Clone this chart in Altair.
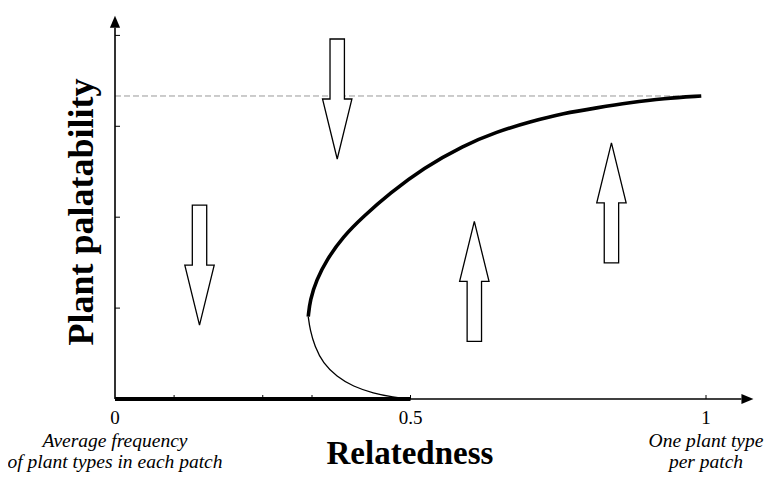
import altair as alt
import pandas as pd

# ---- data ----
# stable (thick) upper branch of the fold
upper_x = [0.327, 0.330, 0.341, 0.358, 0.386, 0.420, 0.465, 0.522, 0.589, 0.646, 0.702, 0.759, 0.815, 0.871, 0.928, 0.992]
upper_y = [0.272, 0.327, 0.393, 0.459, 0.536, 0.602, 0.679, 0.762, 0.836, 0.882, 0.915, 0.943, 0.961, 0.978, 0.992, 1.000]
# unstable (thin) lower branch
lower_x = [0.327, 0.330, 0.338, 0.352, 0.375, 0.403, 0.437, 0.471, 0.500]
lower_y = [0.272, 0.228, 0.173, 0.118, 0.074, 0.041, 0.019, 0.006, 0.000]
# stable zero branch
base_x = [0.0, 0.5]
base_y = [0.0, 0.0]
# asymptote level
asym_level = 1.0
# selection arrows
arrow_x = [0.143, 0.376, 0.608, 0.840]
arrow_y = [0.442, 0.990, 0.388, 0.647]
arrow_dir = ["down", "down", "up", "up"]
# axis ticks
xtick_vals = [0.1, 0.25, 1 / 3, 0.5, 1.0]
ytick_vals = [0.3, 0.6, 0.9, 1.2]
xlabel_vals = [0, 0.5, 1]
xlabel_text = ["0", "0.5", "1"]

FONT = "Liberation Serif"
W, H = 759, 464
X0, X1 = -0.18105, 1.10321
Y0, Y1 = -0.2409, 1.2904
PX = (X1 - X0) / W   # data units per pixel
PY = (Y1 - Y0) / H

xs = alt.Scale(domain=[X0, X1], nice=False, zero=False)
ys = alt.Scale(domain=[Y0, Y1], nice=False, zero=False)


def X(f="x"):
    return alt.X(f"{f}:Q", scale=xs, axis=None)


def Y(f="y"):
    return alt.Y(f"{f}:Q", scale=ys, axis=None)


def X2(f):
    return alt.X2(f"{f}:Q")


def Y2(f):
    return alt.Y2(f"{f}:Q")


upper = pd.DataFrame({"x": upper_x, "y": upper_y, "o": range(len(upper_x))})
lower = pd.DataFrame({"x": lower_x, "y": lower_y, "o": range(len(lower_x))})
base = pd.DataFrame({"x": base_x, "y": base_y, "o": range(len(base_x))})

# axes
axis_df = pd.DataFrame({
    "x": [0.0, 0.0], "x2": [0.0, 1.06],
    "y": [0.0, 0.0], "y2": [1.225, 0.0],
})
axes = alt.Chart(axis_df).mark_rule(color="black", strokeWidth=1.6).encode(
    x=X(), x2=X2("x2"), y=Y(), y2=Y2("y2"))

xt = pd.DataFrame({"x": xtick_vals, "y": [0.0] * len(xtick_vals), "y2": [4 * PY] * len(xtick_vals)})
xticks = alt.Chart(xt).mark_rule(color="black", strokeWidth=1).encode(
    x=X(), y=Y(), y2=Y2("y2"))
yt = pd.DataFrame({"y": ytick_vals, "x": [0.0] * len(ytick_vals), "x2": [5 * PX] * len(ytick_vals)})
yticks = alt.Chart(yt).mark_rule(color="black", strokeWidth=1).encode(
    y=Y(), x=X(), x2=X2("x2"))

# arrowheads of the axes
head_path = "M-1,-0.85L1,0L-1,0.85Z"
heads = pd.DataFrame({"x": [1.06 + 6 * PX, 0.0], "y": [0.0, 1.225 + 6 * PY], "rot": [0, 270]})
axis_heads = alt.Chart(heads).mark_point(
    shape=head_path, filled=True, color="black", size=144, opacity=1).encode(
    x=X(), y=Y(), angle=alt.Angle("rot:Q", scale=None))

# dashed asymptote
dash = alt.Chart(pd.DataFrame({"x": [0.0], "x2": [0.99], "y": [asym_level]})).mark_rule(
    color="#999999", strokeWidth=1, strokeDash=[6, 3]).encode(x=X(), x2=X2("x2"), y=Y())

thick_up = alt.Chart(upper).mark_line(color="black", strokeWidth=3.6, interpolate="basis").encode(
    x=X(), y=Y(), order="o:Q")
thin_low = alt.Chart(lower).mark_line(color="black", strokeWidth=1.3, interpolate="basis").encode(
    x=X(), y=Y(), order="o:Q")
thick_base = alt.Chart(base).mark_line(color="black", strokeWidth=4).encode(
    x=X(), y=Y(), order="o:Q")

# block arrows
arrow_path = "M-0.12,-1L0.12,-1L0.12,0L0.245,0L0,1L-0.245,0L-0.12,0Z"
arr = pd.DataFrame({"x": arrow_x, "y": arrow_y, "d": arrow_dir})
arr["rot"] = [0 if d == "down" else 180 for d in arrow_dir]
arrows = alt.Chart(arr).mark_point(
    shape=arrow_path, filled=True, fill="white", stroke="black", strokeWidth=1.3,
    size=14400, opacity=1, fillOpacity=1, strokeOpacity=1).encode(
    x=X(), y=Y(), angle=alt.Angle("rot:Q", scale=None))

# tick labels
lab = pd.DataFrame({"x": xlabel_vals, "t": xlabel_text, "y": [-19 * PY] * 3})
labels = alt.Chart(lab).mark_text(font=FONT, fontSize=19, baseline="middle", align="center",
                                  color="black").encode(x=X(), y=Y(), text="t:N")

# italic notes under the ends of the x axis
notes = pd.DataFrame({
    "x": [0.0, 0.0, 1.0, 1.0],
    "y": [-42 * PY, -63 * PY, -42 * PY, -63 * PY],
    "t": ["Average frequency", "of plant types in each patch", "One plant type", "per patch"],
})
note_marks = alt.Chart(notes).mark_text(font=FONT, fontSize=19.5, fontStyle="italic",
                                        baseline="middle", align="center", color="black").encode(
    x=X(), y=Y(), text="t:N")

# axis titles
xtitle = alt.Chart(pd.DataFrame({"x": [0.499], "y": [-65 * PY], "t": ["Relatedness"]})).mark_text(
    font=FONT, fontSize=33, fontWeight="bold", baseline="alphabetic", align="center", color="black").encode(
    x=X(), y=Y(), text="t:N")
ytitle = alt.Chart(pd.DataFrame({"x": [-22 * PX], "y": [187 * PY], "t": ["Plant palatability"]})).mark_text(
    font=FONT, fontSize=36, fontWeight="bold", baseline="alphabetic", align="center", angle=270,
    color="black").encode(x=X(), y=Y(), text="t:N")

chart = alt.layer(
    dash, thin_low, thick_up, axes, thick_base, xticks, yticks, axis_heads,
    arrows, labels, note_marks, xtitle, ytitle,
).properties(
    width=W, height=H, padding=0, autosize=alt.AutoSizeParams(type="none"),
    background="white",
).configure_view(stroke=None)

chart.save("out.html", embed_options={"renderer": "svg", "actions": False})
